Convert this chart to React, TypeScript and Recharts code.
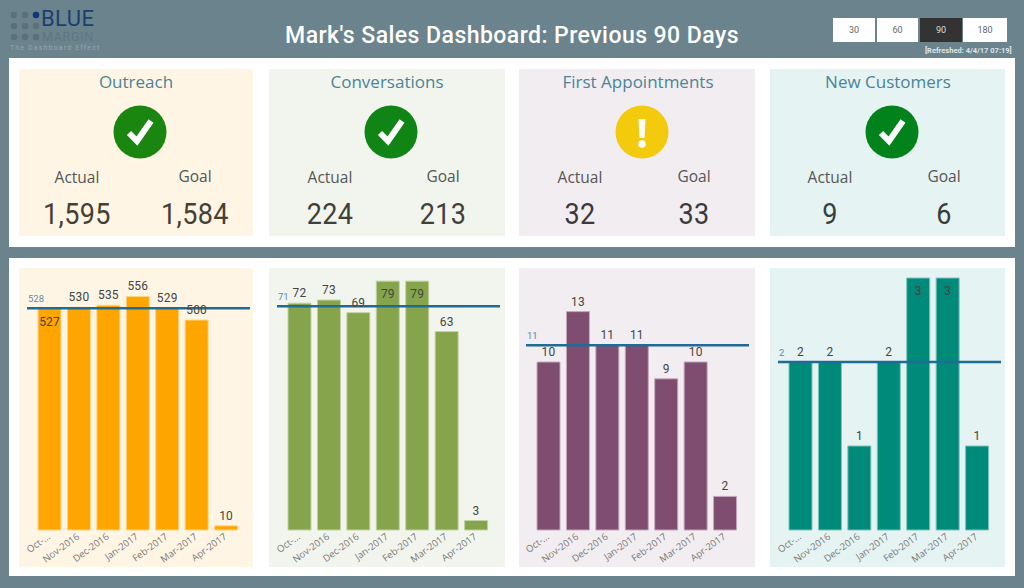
import { Bar, BarChart, LabelList, ReferenceLine, XAxis, YAxis } from 'recharts';

// Sales dashboard: header, four KPI cards and four monthly bar charts with a goal line
const MONTHS = ['Oct-...', 'Nov-2016', 'Dec-2016', 'Jan-2017', 'Feb-2017', 'Mar-2017', 'Apr-2017'];

const OUTREACH = [527, 530, 535, 556, 529, 500, 10];
const CONVERSATIONS = [72, 73, 69, 79, 79, 63, 3];
const APPOINTMENTS = [10, 13, 11, 11, 9, 10, 2];
const CUSTOMERS = [2, 2, 1, 2, 3, 3, 1];

const PERIODS = ['30', '60', '90', '180'];
const DIN = 'Roboto, sans-serif';
const SEGOE = '"Open Sans", sans-serif';

const toRows = (values: number[]) => MONTHS.map((month, i) => ({ month, value: values[i] }));

function ValueLabel({ x, y, width, value, inside }: any) {
  const isInside = inside.includes(value);
  const cx = x + width / 2;
  const cy = isInside ? y + 17 : y - 6;
  return (
    <text
      x={0}
      y={0}
      transform={`translate(${cx} ${cy}) scale(0.92 1)`}
      textAnchor="middle"
      fontFamily={DIN}
      fontSize={13}
      letterSpacing={0.2}
      fill="#444"
    >
      {value}
    </text>
  );
}

function GoalLabel({ viewBox, value }: any) {
  return (
    <text x={viewBox.x + 1} y={viewBox.y - 6} fontFamily={DIN} fontSize={9.5} fill="#5a8cad">
      {value}
    </text>
  );
}

// slanted month label, its end sits just under the bar's centre
function MonthTick({ x, y, payload }: any) {
  return (
    <text
      x={0}
      y={0}
      transform={`translate(${x + 1} ${y + 2}) rotate(-36)`}
      textAnchor="end"
      fontFamily={SEGOE}
      fontSize={9.5}
      fill="#7a7a7a"
    >
      {payload.value}
    </text>
  );
}

function MonthlyBars({ values, goal, max, color, edge, inside, left, width }: any) {
  return (
    <div style={{ position: 'absolute', left, top: 268 }}>
      <BarChart
        width={width}
        height={299}
        data={toRows(values)}
        margin={{ top: 10, right: width - 231, bottom: 0, left: 8 }}
      >
        <XAxis
          dataKey="month"
          interval={0}
          height={37}
          padding={{ left: 8, right: 9 }}
          tick={<MonthTick />}
          tickMargin={0}
          axisLine={false}
          tickLine={false}
        />
        <YAxis hide domain={[0, max]} />
        <Bar dataKey="value" barSize={23} fill={color} stroke={edge} strokeWidth={1} isAnimationActive={false}>
          <LabelList dataKey="value" content={(p: any) => <ValueLabel {...p} inside={inside} />} />
        </Bar>
        <ReferenceLine y={goal} stroke="#1f6b96" strokeWidth={2.5} label={<GoalLabel value={goal} />} />
      </BarChart>
    </div>
  );
}

function Box({ left, top, width, height, background, children }: any) {
  return <div style={{ position: 'absolute', left, top, width, height, background }}>{children}</div>;
}

function Centered({ x, y, size, color, font, weight, spacing, squeeze, children }: any) {
  return (
    <div
      style={{
        position: 'absolute',
        left: x - 300,
        top: y - 20,
        width: 600,
        height: 40,
        lineHeight: '40px',
        textAlign: 'center',
        fontFamily: font,
        fontSize: size,
        fontWeight: weight ?? 400,
        letterSpacing: spacing ?? 0,
        color,
        whiteSpace: 'nowrap',
        transform: squeeze ? `scaleX(${squeeze})` : undefined,
      }}
    >
      {children}
    </div>
  );
}

function StatusIcon({ x, warn, color }: any) {
  return (
    <svg style={{ position: 'absolute', left: x - 27, top: 105 }} width={54} height={54} viewBox="0 0 54 54">
      <circle cx={27} cy={27} r={26.5} fill={color} />
      {warn ? (
        <>
          <path d="M23.5 14 H30.5 L29.5 33 H24.5 Z" fill="#fff" />
          <circle cx={27} cy={39} r={3.8} fill="#fff" />
        </>
      ) : (
        <path d="M16 28 L24 36 L38 16" fill="none" stroke="#fff" strokeWidth={6} />
      )}
    </svg>
  );
}

function Kpi({ title, titleX, iconX, warn, iconColor, actualX, goalX, actual, goal, ink }: any) {
  return (
    <>
      <Centered x={titleX} y={82} size={17} color="#4b8496" font={SEGOE}>{title}</Centered>
      <StatusIcon x={iconX} warn={warn} color={iconColor} />
      <Centered x={actualX} y={177} size={15.5} color="#555" font={SEGOE}>Actual</Centered>
      <Centered x={goalX} y={176} size={15.5} color="#555" font={SEGOE}>Goal</Centered>
      <Centered x={actualX} y={214} size={30} color={ink} font={DIN} squeeze={0.9} spacing={0.4}>{actual}</Centered>
      <Centered x={goalX} y={214} size={30} color={ink} font={DIN} squeeze={0.9} spacing={0.4}>{goal}</Centered>
    </>
  );
}

function Logo() {
  const dots = [14, 25, 36];
  const rows = [15, 26, 37];
  return (
    <>
      <svg style={{ position: 'absolute', left: 0, top: 0 }} width={41} height={43}>
        {rows.map((cy) =>
          dots.map((cx) => (
            <circle
              key={`${cx}-${cy}`}
              cx={cx}
              cy={cy}
              r={3.3}
              fill={cx === 36 && cy === 15 ? '#12367a' : '#5b7079'}
            />
          )),
        )}
      </svg>
      <div style={{ position: 'absolute', left: 41, top: 7, fontFamily: DIN, fontSize: 22, lineHeight: '24px', letterSpacing: 0.4, color: '#1c3f70' }}>BLUE</div>
      <div style={{ position: 'absolute', left: 42, top: 30, fontFamily: DIN, fontSize: 12.5, lineHeight: '13px', letterSpacing: 0.7, color: '#5f7681' }}>MARGIN</div>
      <div style={{ position: 'absolute', left: 10, top: 44, fontFamily: DIN, fontSize: 7, lineHeight: '9px', letterSpacing: 1.15, color: '#93a6ae', whiteSpace: 'nowrap' }}>The Dashboard Effect</div>
    </>
  );
}

export default function App() {
  const buttons = [
    { left: 833, width: 42 },
    { left: 877, width: 41 },
    { left: 920, width: 42 },
    { left: 963, width: 44 },
  ];
  return (
    <div style={{ position: 'fixed', left: 0, top: 0, width: 1024, height: 588, overflow: 'hidden', background: '#6a838d' }}>
      <Logo />
      <Centered x={512} y={35} size={24} color="#fff" font={DIN} weight={500} squeeze={0.96} spacing={0.45}>
        Mark's Sales Dashboard: Previous 90 Days
      </Centered>
      {PERIODS.map((label, i) => (
        <div
          key={label}
          style={{
            position: 'absolute',
            top: 18,
            height: 24,
            lineHeight: '24px',
            textAlign: 'center',
            fontFamily: DIN,
            fontSize: 9,
            left: buttons[i].left,
            width: buttons[i].width,
            background: label === '90' ? '#333' : '#fff',
            color: label === '90' ? '#ddd' : '#666',
          }}
        >
          {label}
        </div>
      ))}
      <div style={{ position: 'absolute', left: 925, top: 46, fontFamily: DIN, fontSize: 7.5, lineHeight: '10px', fontWeight: 700, color: '#dfe5e8', whiteSpace: 'nowrap' }}>
        [Refreshed: 4/4/17 07:19]
      </div>

      <Box left={9} top={58} width={1006} height={189} background="#fff" />
      <Box left={9} top={258} width={1006} height={318} background="#fff" />

      <Box left={19} top={69} width={234} height={167} background="#fff5e5" />
      <Box left={269} top={69} width={236} height={167} background="#f2f5ed" />
      <Box left={519} top={69} width={236} height={167} background="#f2edf1" />
      <Box left={770} top={69} width={235} height={167} background="#e5f3f2" />

      <Box left={19} top={268} width={234} height={299} background="#fff5e5" />
      <Box left={269} top={268} width={236} height={299} background="#f2f5ed" />
      <Box left={519} top={268} width={236} height={299} background="#f2edf1" />
      <Box left={770} top={268} width={235} height={299} background="#e5f3f2" />

      <Kpi title="Outreach" titleX={136} iconX={140} iconColor="#1a850f" actualX={77} goalX={195} actual="1,595" goal="1,584" ink="#463f33" />
      <Kpi title="Conversations" titleX={387} iconX={391} iconColor="#108516" actualX={330} goalX={443} actual="224" goal="213" ink="#40403a" />
      <Kpi title="First Appointments" titleX={638} iconX={642} warn iconColor="#f4cb0c" actualX={580} goalX={694} actual="32" goal="33" ink="#3c383c" />
      <Kpi title="New Customers" titleX={888} iconX={892} iconColor="#01821a" actualX={830} goalX={944} actual="9" goal="6" ink="#383e3e" />

      <MonthlyBars left={19} width={234} values={OUTREACH} goal={528} max={600} color="#ffa500" edge="#ffd486" inside={[527]} />
      <MonthlyBars left={269} width={236} values={CONVERSATIONS} goal={71} max={80} color="#86a44c" edge="#c2d2a4" inside={[79]} />
      <MonthlyBars left={518} width={236} values={APPOINTMENTS} goal={11} max={15} color="#7e4d6f" edge="#c5a8bc" inside={[]} />
      <MonthlyBars left={770} width={235} values={CUSTOMERS} goal={2} max={3} color="#008a7a" edge="#7cc4bb" inside={[3]} />
    </div>
  );
}
